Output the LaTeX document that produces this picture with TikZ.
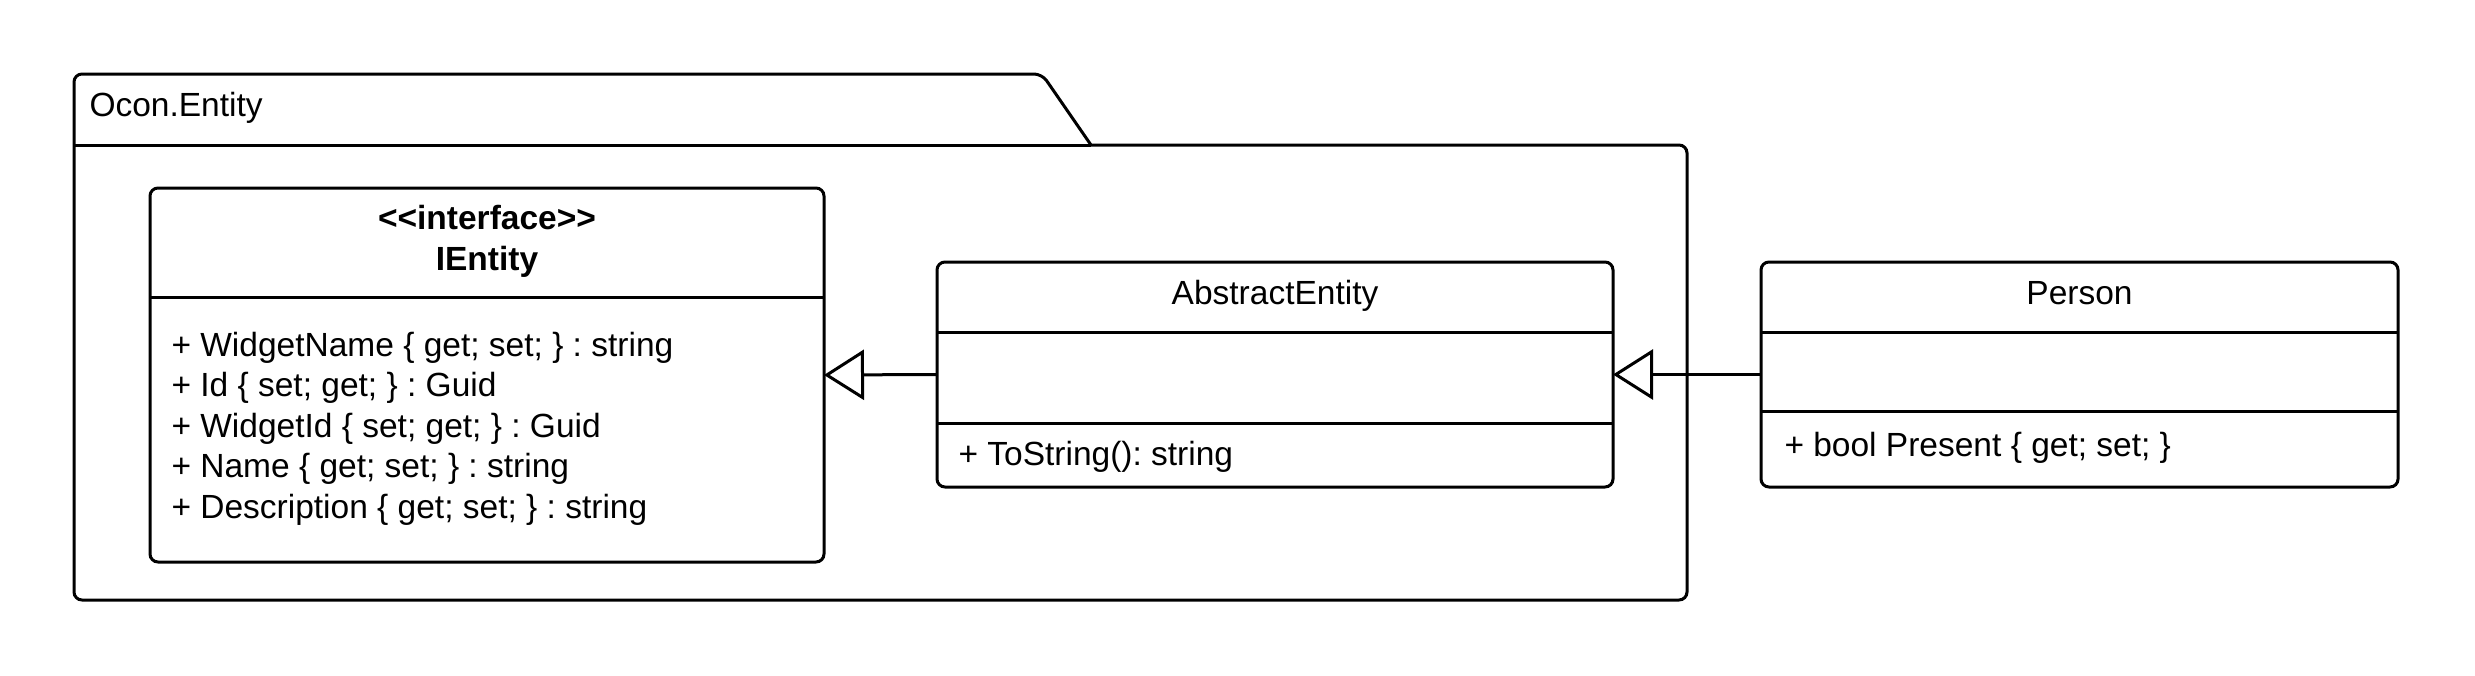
\documentclass[tikz,border=0pt]{standalone}
\usepackage{fontspec}
\setmainfont{Liberation Sans}[Ligatures=TeXOff]
\frenchspacing
\usetikzlibrary{arrows.meta}
\begin{document}
\begin{tikzpicture}[x=1pt,y=-1pt,line width=3pt,
  cls/.style={draw, rounded corners=8pt, anchor=north west, inner sep=0pt, outer sep=0pt},
  txt/.style={anchor=base west, inner sep=0pt, font=\fontsize{33.5}{40}\selectfont\frenchspacing},
  ctxt/.style={anchor=base, inner sep=0pt, font=\fontsize{33.5}{40}\selectfont},
  btxt/.style={anchor=base, inner sep=0pt, font=\fontsize{33.5}{40}\selectfont\bfseries},
  divider/.style={line width=3pt},
  inh/.style={-{Triangle[open,length=40pt,width=50pt]}, line join=miter}]
\useasboundingbox (0,0) rectangle (2475,675);

% package
\coordinate (p-tl) at (74,74);
\coordinate (p-tr) at (1042,74);
\coordinate (p-tab) at (1091,145);
\coordinate (p-bl) at (74,145);
\coordinate (p-br) at (1687,600);
\draw[rounded corners=8pt] (p-tab) -- (1687,145) -- (p-br) -- (74,600) -- (p-tl) -- (p-tr) -- (p-tab);
\draw (p-bl) -- (p-tab);
\node[txt] (pkg) at (88,116) {Ocon.Entity};

% IEntity
\node[cls, minimum width=674pt, minimum height=374pt] (ient) at (150,188) {};
\draw[divider] (ient.west |- 0,297) -- (ient.east |- 0,297);
\node[btxt] (ient-s) at (ient.north |- 0,229) {<<interface>>};
\node[btxt] (ient-t) at (ient.north |- 0,270) {IEntity};
\node[txt] (a1) at (170,356) {+ WidgetName \{ get; set; \} : string};
\node[txt] (a2) at (170,396.5) {+ Id \{ set; get; \} : Guid};
\node[txt] (a3) at (170,437) {+ WidgetId \{ set; get; \} : Guid};
\node[txt] (a4) at (170,477.5) {+ Name \{ get; set; \} : string};
\node[txt] (a5) at (170,518) {+ Description \{ get; set; \} : string};

% AbstractEntity
\node[cls, minimum width=676pt, minimum height=225pt] (abst) at (937,262) {};
\draw[divider] (abst.west |- 0,332) -- (abst.east |- 0,332);
\draw[divider] (abst.west |- 0,423) -- (abst.east |- 0,423);
\node[ctxt] (abst-t) at (abst.north |- 0,304) {AbstractEntity};
\node[txt] (abst-m) at (957,465) {+ ToString(): string};

% Person
\node[cls, minimum width=637pt, minimum height=225pt] (pers) at (1761,262) {};
\draw[divider] (pers.west |- 0,332) -- (pers.east |- 0,332);
\draw[divider] (pers.west |- 0,411) -- (pers.east |- 0,411);
\node[ctxt] (pers-t) at (pers.north |- 0,304) {Person};
\node[txt] (pers-a) at (1783,456) {+ bool Present \{ get; set; \}};

% inheritance
\draw[inh] (abst.west) -- (ient.east);
\draw[inh] (pers.west) -- (abst.east);
\end{tikzpicture}
\end{document}
